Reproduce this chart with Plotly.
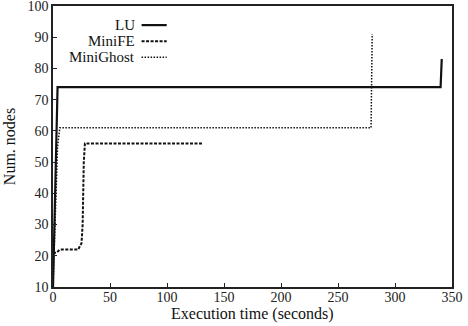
import plotly.graph_objects as go

lu_x = [0, 4, 339, 340, 341]
lu_y = [10, 74, 74, 74, 83]

minife_x = [0, 3, 6, 22, 25, 26, 27, 28, 132]
minife_y = [21, 21, 22, 22, 24, 30, 50, 56, 56]

minighost_x = [0, 2, 4, 6, 279, 280]
minighost_y = [10, 30, 55, 61, 61, 91]

series = [
    ("LU", lu_x, lu_y, "solid", 2.2),
    ("MiniFE", minife_x, minife_y, "3px,1.5px", 2.0),
    ("MiniGhost", minighost_x, minighost_y, "1.5px,1.5px", 1.5),
]

FONT = "Liberation Serif"

fig = go.Figure()
for name, xs, ys, dash, w in series:
    fig.add_trace(go.Scatter(x=xs, y=ys, mode="lines", name=name,
                             line=dict(color="#111111", width=w, dash=dash),
                             showlegend=False))

# custom legend: text right-aligned, sample line to its right
leg_y = [0.932, 0.875, 0.818]
for (name, xs, ys, dash, w), yy in zip(series, leg_y):
    fig.add_annotation(x=0.21, y=yy, xref="paper", yref="paper", text=name,
                       showarrow=False, xanchor="right", yanchor="middle",
                       font=dict(family=FONT, size=15, color="#111111"))
    fig.add_shape(type="line", xref="paper", yref="paper", x0=0.222, x1=0.285,
                  y0=yy, y1=yy, line=dict(color="#111111", width=w, dash=dash))

# x axis title as annotation for exact placement
fig.add_annotation(x=0.5, y=0, xref="paper", yref="paper", yshift=-27,
                   text="Execution time (seconds)", showarrow=False,
                   xanchor="center", yanchor="middle",
                   font=dict(family=FONT, size=16, color="#111111"))

axis_common = dict(showline=True, mirror=True, linecolor="#222222", linewidth=1.5,
                   ticks="inside", ticklen=4, tickcolor="#222222",
                   showgrid=False, zeroline=False, automargin=False,
                   ticklabeloverflow="allow",
                   tickfont=dict(family=FONT, size=14, color="#222222"))

fig.update_layout(
    width=468, height=326,
    margin=dict(l=53, r=16, t=6, b=39),
    plot_bgcolor="white", paper_bgcolor="white",
    xaxis=dict(range=[0, 350], dtick=50, tick0=0, ticklabelstandoff=-4,
               **axis_common),
    yaxis=dict(range=[10, 100], dtick=10, tick0=10,
               title=dict(text="Num. nodes", standoff=8,
                          font=dict(family=FONT, size=16, color="#111111")),
               **axis_common),
)

fig.write_html("out.html", config={"displayModeBar": False},
               post_script="document.body.style.margin='0';")
